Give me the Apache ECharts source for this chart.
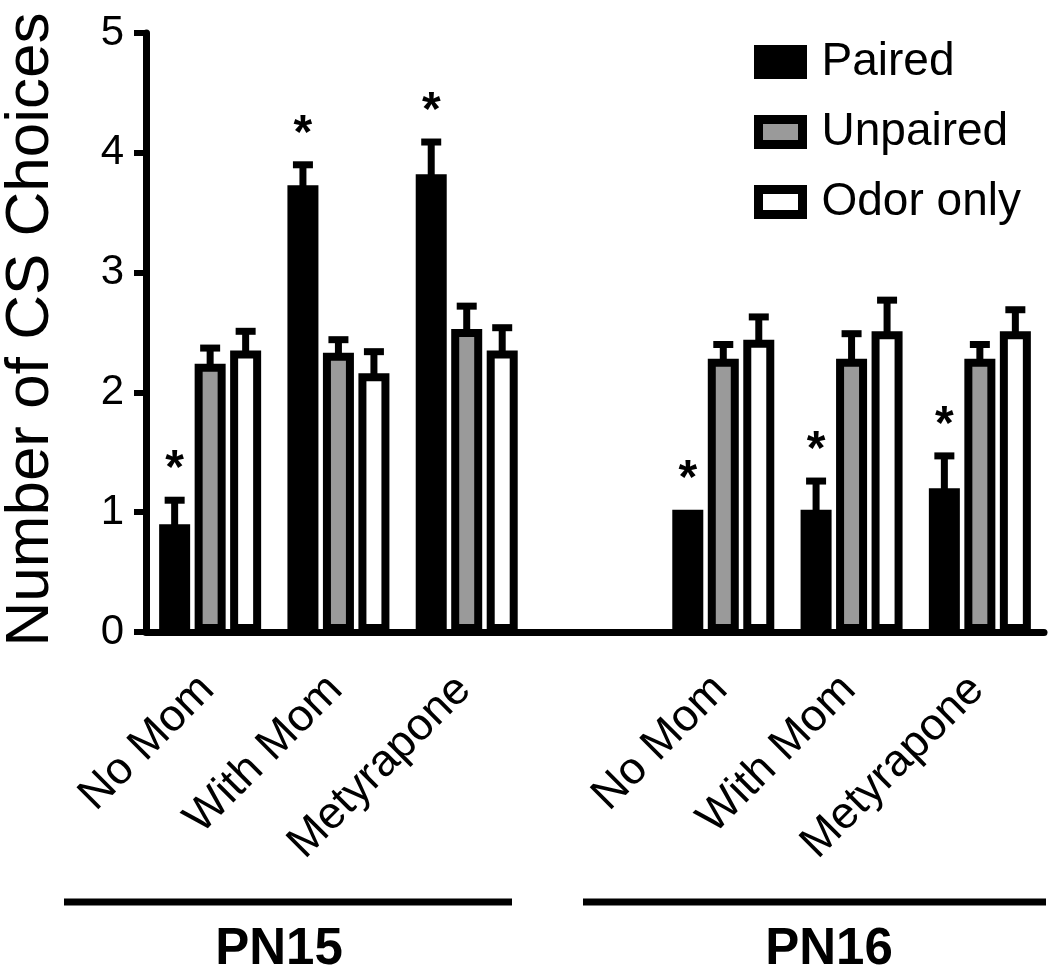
<!DOCTYPE html>
<html>
<head>
<meta charset="utf-8">
<script src="https://cdn.jsdelivr.net/npm/echarts@6/dist/echarts.min.js"></script>
<style>
html,body{margin:0;padding:0;background:#fff;}
#chart{width:1050px;height:971px;}
</style>
</head>
<body>
<div id="chart"></div>
<script>
// ---- data ----
var categories = ["No Mom", "With Mom", "Metyrapone", "", "No Mom", "With Mom", "Metyrapone"];
var seriesNames = ["Paired", "Unpaired", "Odor only"];
var pairedMean   = [0.90, 3.73, 3.82, null, 1.02, 1.02, 1.20];
var pairedSem    = [0.20, 0.17, 0.27, null, 0.00, 0.24, 0.27];
var unpairedMean = [2.24, 2.33, 2.53, null, 2.28, 2.28, 2.28];
var unpairedSem  = [0.13, 0.11, 0.19, null, 0.12, 0.21, 0.12];
var odorMean     = [2.35, 2.16, 2.35, null, 2.44, 2.51, 2.51];
var odorSem      = [0.16, 0.18, 0.19, null, 0.19, 0.26, 0.18];
var pairedSig    = [1, 1, 1, 0, 1, 1, 1];
var noSig        = [0, 0, 0, 0, 0, 0, 0];
var yTicks       = [0, 1, 2, 3, 4, 5];
var groupLabels  = ["PN15", "PN16"];

var FONT = "'Liberation Sans', Arial, Helvetica, sans-serif";
var BAR_W = 31, BAR_GAP = 0.145, BW = 8;
var STEP = BAR_W * (1 + BAR_GAP);

var means = [pairedMean, unpairedMean, odorMean];
var sems = [pairedSem, unpairedSem, odorSem];
var sigs = [pairedSig, noSig, noSig];
var fills = ["#000000", "#9a9a9a", "#ffffff"];

function barData(arr) {
  return arr.map(function (v) { return v == null ? '-' : v; });
}
function errData(k) {
  var out = [];
  for (var i = 0; i < categories.length; i++) {
    if (means[k][i] == null) continue;
    out.push([i, means[k][i], sems[k][i], sigs[k][i]]);
  }
  return out;
}

var series = [];
seriesNames.forEach(function (name, k) {
  series.push({
    name: name,
    type: 'bar',
    data: barData(means[k]),
    barWidth: BAR_W,
    barGap: (BAR_GAP * 100) + '%',
    itemStyle: { color: fills[k], borderColor: '#000', borderWidth: BW },
    z: 2,
    silent: true
  });
});
seriesNames.forEach(function (name, k) {
  series.push({
    name: name + ' err',
    type: 'custom',
    data: errData(k),
    z: 5,
    silent: true,
    renderItem: function (params, api) {
      var ci = api.value(0), m = api.value(1), s = api.value(2), sig = api.value(3);
      var top = api.coord([ci, m]);
      var cap = api.coord([ci, m + s]);
      var cx = top[0] + (k - 1) * STEP;
      var children = [];
      if (s > 0) {
        children.push({ type: 'line', shape: { x1: cx, y1: top[1] + 4, x2: cx, y2: cap[1] },
          style: { stroke: '#000', lineWidth: 7 } });
        children.push({ type: 'line', shape: { x1: cx - 10, y1: cap[1], x2: cx + 10, y2: cap[1] },
          style: { stroke: '#000', lineWidth: 7 } });
      }
      if (sig) {
        children.push({ type: 'text', style: { text: '*', x: cx, y: cap[1] - 30,
          align: 'center', verticalAlign: 'middle', fill: '#000',
          font: 'bold 48px ' + FONT } });
      }
      return { type: 'group', children: children };
    }
  });
});

var chart = echarts.init(document.getElementById('chart'));
chart.setOption({
  backgroundColor: '#fff',
  animation: false,
  textStyle: { fontFamily: FONT, color: '#000' },
  grid: { left: 146, right: 6, top: 33, bottom: 339, containLabel: false, outerBoundsMode: 'none' },
  legend: {
    data: seriesNames,
    orient: 'vertical',
    left: 754,
    top: 39,
    padding: 0,
    icon: 'rect',
    itemWidth: 44,
    itemHeight: 25,
    itemGap: 24,
    selectedMode: false,
    itemStyle: { borderColor: '#000', borderWidth: 9 },
    textStyle: { fontSize: 46, color: '#000', fontFamily: FONT, lineHeight: 46, padding: [0, 0, 0, 14] }
  },
  xAxis: {
    type: 'category',
    data: categories,
    boundaryGap: true,
    axisLine: { lineStyle: { color: '#000', width: 7 } },
    axisTick: { alignWithLabel: true, length: 14, lineStyle: { color: '#000', width: 7 } },
    axisLabel: { rotate: 45, margin: 48, fontSize: 45, color: '#000', fontFamily: FONT, interval: 0,
      padding: [0, 4, 0, 0] }
  },
  yAxis: {
    type: 'value',
    min: yTicks[0],
    max: yTicks[yTicks.length - 1],
    interval: 1,
    name: 'Number of CS Choices',
    nameLocation: 'middle',
    nameGap: 84,
    nameTextStyle: { fontSize: 62, color: '#000', fontFamily: FONT, padding: [0, 0, 0, 6] },
    axisLine: { show: true, lineStyle: { color: '#000', width: 7 } },
    axisTick: { show: true, length: 12, lineStyle: { color: '#000', width: 6 } },
    axisLabel: { fontSize: 42, color: '#000', margin: 22, fontFamily: FONT },
    splitLine: { show: false }
  },
  graphic: [
    { type: 'line', shape: { x1: 64, y1: 902, x2: 512, y2: 902 }, style: { stroke: '#000', lineWidth: 7 } },
    { type: 'line', shape: { x1: 583, y1: 902, x2: 1046, y2: 902 }, style: { stroke: '#000', lineWidth: 7 } },
    { type: 'text', x: 279, y: 950, style: { text: groupLabels[0], align: 'center', verticalAlign: 'middle',
      font: 'bold 51px ' + FONT, fill: '#000' } },
    { type: 'text', x: 829, y: 950, style: { text: groupLabels[1], align: 'center', verticalAlign: 'middle',
      font: 'bold 51px ' + FONT, fill: '#000' } }
  ],
  series: series
});
</script>
</body>
</html>
